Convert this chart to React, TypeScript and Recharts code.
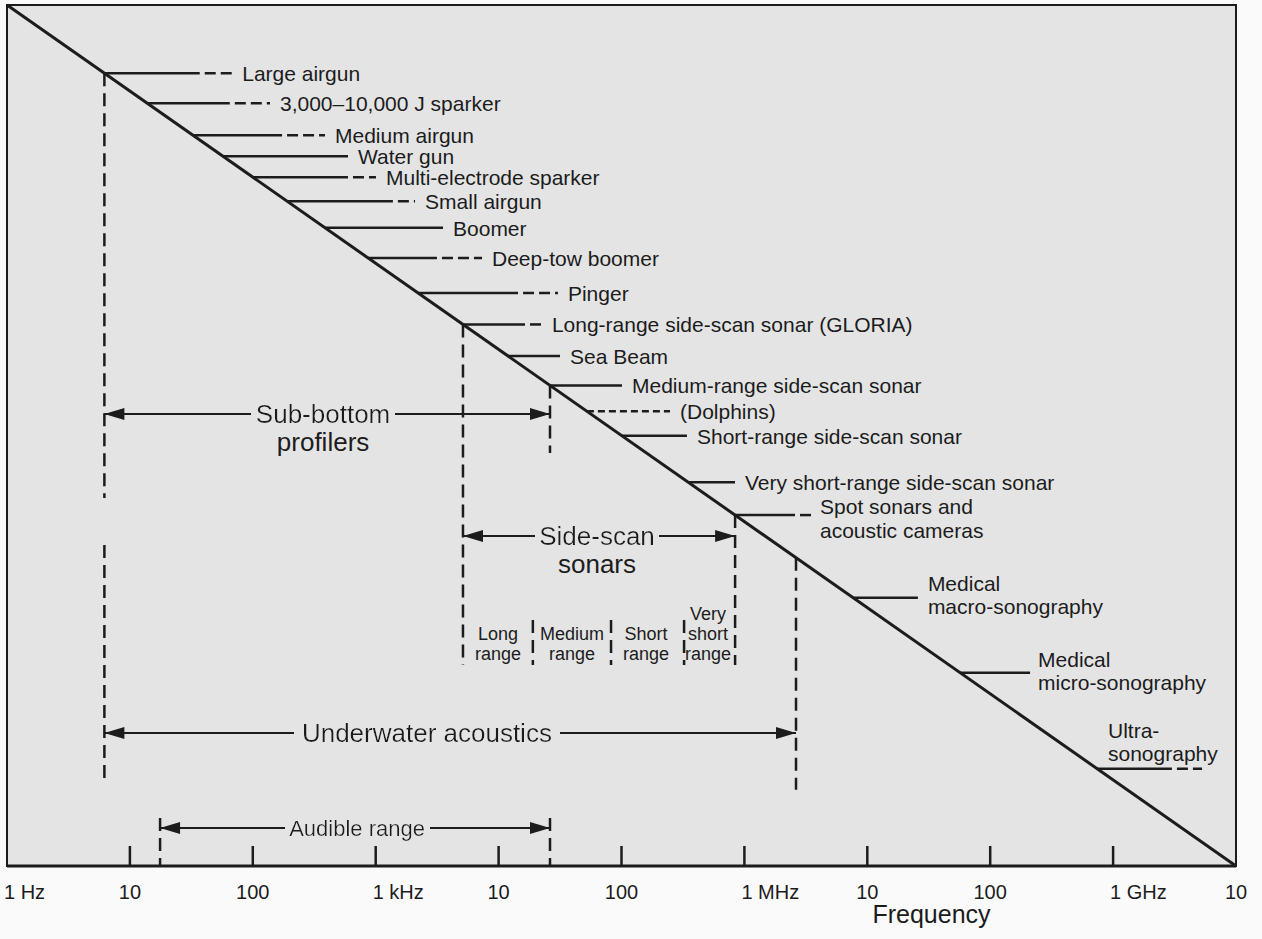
import React from 'react';
import { ComposedChart, XAxis, YAxis, ReferenceLine, ReferenceArea, Scatter } from 'recharts';

// Wavelength in sea water is used as the (hidden) vertical axis: lambda = c / f
const SOUND_SPEED = 1500;
const F_MIN = 1;
const F_MAX = 1e10;
const LAMBDA_MIN = SOUND_SPEED / F_MAX;
const LAMBDA_MAX = SOUND_SPEED / F_MIN;
const wavelength = (f: number) => SOUND_SPEED / f;

const tickFreqs = [1, 10, 100, 1e3, 1e4, 1e5, 1e6, 1e7, 1e8, 1e9, 1e10];
const tickLabels = ['1 Hz', '10', '100', '1 kHz', '10', '100', '1 MHz', '10', '100', '1 GHz', '10'];

// sources, each starting on the diagonal
const sourceNames = [
  'Large airgun',
  '3,000–10,000 J sparker',
  'Medium airgun',
  'Water gun',
  'Multi-electrode sparker',
  'Small airgun',
  'Boomer',
  'Deep-tow boomer',
  'Pinger',
  'Long-range side-scan sonar (GLORIA)',
  'Sea Beam',
  'Medium-range side-scan sonar',
  '(Dolphins)',
  'Short-range side-scan sonar',
  'Very short-range side-scan sonar',
  'Spot sonars and\nacoustic cameras',
  'Medical\nmacro-sonography',
  'Medical\nmicro-sonography',
  'Ultra-\nsonography',
];
const sourceFreqs = [6.2, 13.8, 32.6, 57, 100, 190, 387, 865, 2210, 5130, 11900, 26200, 52300, 101000, 348000, 840000, 7.65e6, 5.68e7, 7.4e8];
const solidEnds = [37, 65, 173, 595, 595, 1380, 3530, 3150, 14400, 16400, 31600, 101000, 52300, 341000, 839000, 2.58e6, 2.58e7, 2.11e8, 3.01e9];
const dashEnds: (number | null)[] = [68, 138, 387, null, 1005, 2090, null, 7330, 30400, 22500, null, null, 248000, null, null, 3.55e6, null, null, 5.29e9];

// range arrows
const rangeNames = ['Sub-bottom\nprofilers', 'Side-scan\nsonars', 'Underwater acoustics', 'Audible range'];
const rangeFrom = [6.2, 5130, 6.2, 17.6];
const rangeTo = [26200, 840000, 2.63e6, 26200];
const rangeLambda = [0.0267, 1.02e-3, 5.26e-6, 4.14e-7];
const rangeTextAt = [373, 63200, 2610, 705];

// dashed vertical brackets (null top = starts on the diagonal)
const bracketFreqs = [6.2, 6.2, 5130, 26200, 840000, 2.63e6, 19000, 82200, 323000, 17.6, 26200];
const bracketTops: (number | null)[] = [null, 8.0e-4, null, null, null, null, 1.08e-4, 1.08e-4, 1.08e-4, 5.41e-7, 5.41e-7];
const bracketBottoms = [2.82e-3, 1.5e-6, 3.24e-5, 9.39e-3, 3.24e-5, 1.15e-6, 3.24e-5, 3.24e-5, 3.24e-5, LAMBDA_MIN, LAMBDA_MIN];

// side-scan sonar classes
const classNames = ['Long\nrange', 'Medium\nrange', 'Short\nrange', 'Very\nshort\nrange'];
const classFreqs = [9890, 39500, 158000, 506000];
const classLambda = 6.33e-5;

const INK = '#1c1c1c';
const PLOT_BG = '#e4e4e4';
const FONT = '"Liberation Sans", Arial, Helvetica, sans-serif';

// label placement tweaks (baseline offsets from the callout line)
const labelLayout: Record<string, { dx: number; baselines: number[]; atStart?: boolean }> = {
  'Spot sonars and\nacoustic cameras': { dx: 8, baselines: [-1, 23] },
  'Medical\nmacro-sonography': { dx: 10, baselines: [-7, 16] },
  'Medical\nmicro-sonography': { dx: 8, baselines: [-6, 17] },
  'Ultra-\nsonography': { dx: 11, baselines: [-31, -8], atStart: true },
};

const sourceLabelPoints = sourceNames.map((name, i) => ({
  f: labelLayout[name]?.atStart ? sourceFreqs[i] : dashEnds[i] ?? solidEnds[i],
  lambda: wavelength(sourceFreqs[i]),
  name,
}));

const rangeTextPoints = rangeNames.map((name, i) => ({ f: rangeTextAt[i], lambda: rangeLambda[i], name, i }));
const arrowHeads = rangeNames.flatMap((_, i) => [
  { f: rangeFrom[i], lambda: rangeLambda[i], dir: -1 },
  { f: rangeTo[i], lambda: rangeLambda[i], dir: 1 },
]);
const classPoints = classNames.map((name, i) => ({ f: classFreqs[i], lambda: classLambda, name }));

const FreqTick = (props: any) => {
  const { x, y, payload } = props;
  const i = tickFreqs.indexOf(payload.value);
  const label = tickLabels[i] ?? '';
  const edge = i === 0 || i === tickFreqs.length - 1;
  const unit = label.includes('Hz');
  return (
    <g>
      {!edge && <line x1={x} x2={x} y1={y - 20} y2={y} stroke={INK} strokeWidth={2.5} />}
      <text x={unit ? x - 3 : x} y={y + 33} textAnchor={unit ? 'start' : 'middle'} fontSize={20} fontFamily={FONT} fill={INK}>
        {label}
      </text>
    </g>
  );
};

const renderSourceLabel = (p: any) => {
  const { cx, cy, payload } = p;
  const lay = labelLayout[payload.name] ?? { dx: 10, baselines: [8] };
  const lines = payload.name.split('\n');
  return (
    <text fontSize={21} fontFamily={FONT} fill={INK}>
      {lines.map((l: string, k: number) => (
        <tspan key={k} x={cx + lay.dx} y={cy + lay.baselines[k]}>{l}</tspan>
      ))}
    </text>
  );
};

const renderRangeText = (p: any) => {
  const { cx, cy, payload } = p;
  const lines = payload.name.split('\n');
  const size = payload.name === 'Audible range' ? 22 : 26;
  const id = `bgfill-${payload.i}`;
  return (
    <g>
      <defs>
        <filter id={id} x="-0.03" y="0" width="1.06" height="1">
          <feFlood floodColor={PLOT_BG} />
          <feComposite in="SourceGraphic" operator="over" />
        </filter>
      </defs>
      {lines.map((l: string, k: number) => (
        <text key={k} x={cx} y={cy + k * 28} dy="0.35em" textAnchor="middle" fontSize={size} fontFamily={FONT} fill={INK}
          filter={k === 0 ? `url(#${id})` : undefined}>
          {l}
        </text>
      ))}
    </g>
  );
};

const renderArrowHead = (p: any) => {
  const { cx, cy, payload } = p;
  const d = payload.dir;
  const pts = `${cx},${cy} ${cx - d * 20},${cy - 6} ${cx - d * 20},${cy + 6}`;
  return <polygon points={pts} fill={INK} />;
};

const renderClassLabel = (p: any) => {
  const { cx, cy, payload } = p;
  const lines = payload.name.split('\n');
  const n = lines.length;
  return (
    <text textAnchor="middle" fontSize={18} fontFamily={FONT} fill={INK}>
      {lines.map((l: string, k: number) => (
        <tspan key={k} x={cx} y={cy + 20 * (k - (n - 2))}>{l}</tspan>
      ))}
    </text>
  );
};

export default function App() {
  return (
    <div style={{ position: 'absolute', left: 0, top: 0, width: 1262, height: 939, background: '#fafafa' }}>
      <ComposedChart width={1262} height={939} margin={{ top: 5, right: 26, bottom: 13, left: 7 }}>
        <XAxis
          dataKey="f"
          type="number"
          scale="log"
          domain={[F_MIN, F_MAX]}
          ticks={tickFreqs}
          interval={0}
          allowDataOverflow
          tickSize={0}
          tickMargin={0}
          tickLine={false}
          tick={<FreqTick />}
          axisLine={{ stroke: INK, strokeWidth: 3 }}
          height={60}
          label={{ value: 'Frequency', position: 'insideBottom', dx: 310, offset: 3, fontSize: 25, fontFamily: FONT, fill: INK }}
        />
        <YAxis dataKey="lambda" type="number" scale="log" domain={[LAMBDA_MIN, LAMBDA_MAX]} allowDataOverflow hide />

        <ReferenceArea x1={F_MIN} x2={F_MAX} y1={LAMBDA_MIN} y2={LAMBDA_MAX} fill={PLOT_BG} fillOpacity={1}
          stroke={INK} strokeWidth={2} ifOverflow="visible" />

        {bracketFreqs.map((f, i) => (
          <ReferenceLine key={`b${i}`} ifOverflow="visible" stroke={INK} strokeWidth={2.5} strokeDasharray="13 7"
            segment={[{ x: f, y: bracketTops[i] ?? wavelength(f) }, { x: f, y: bracketBottoms[i] }]} />
        ))}

        {sourceNames.map((_, i) => {
          const f = sourceFreqs[i];
          const y = wavelength(f);
          const out = [];
          if (solidEnds[i] > f) {
            out.push(<ReferenceLine key={`s${i}`} ifOverflow="visible" stroke={INK} strokeWidth={2.5}
              segment={[{ x: f, y }, { x: solidEnds[i], y }]} />);
          }
          const de = dashEnds[i];
          if (de) {
            const solid = solidEnds[i] > f;
            out.push(<ReferenceLine key={`d${i}`} ifOverflow="visible" stroke={INK} strokeWidth={2.5}
              strokeDasharray={solid ? '11 5' : '7 4'} strokeDashoffset={solid ? 11 : 0}
              segment={[{ x: solidEnds[i], y }, { x: de, y }]} />);
          }
          return out;
        })}

        <ReferenceLine ifOverflow="visible" stroke={INK} strokeWidth={3}
          segment={[{ x: F_MIN, y: LAMBDA_MAX }, { x: F_MAX, y: LAMBDA_MIN }]} />

        {rangeNames.map((_, i) => (
          <ReferenceLine key={`r${i}`} ifOverflow="visible" stroke={INK} strokeWidth={2}
            segment={[{ x: rangeFrom[i], y: rangeLambda[i] }, { x: rangeTo[i], y: rangeLambda[i] }]} />
        ))}

        <Scatter data={arrowHeads} shape={renderArrowHead} isAnimationActive={false} />
        <Scatter data={rangeTextPoints} shape={renderRangeText} isAnimationActive={false} />
        <Scatter data={sourceLabelPoints} shape={renderSourceLabel} isAnimationActive={false} />
        <Scatter data={classPoints} shape={renderClassLabel} isAnimationActive={false} />
      </ComposedChart>
    </div>
  );
}
